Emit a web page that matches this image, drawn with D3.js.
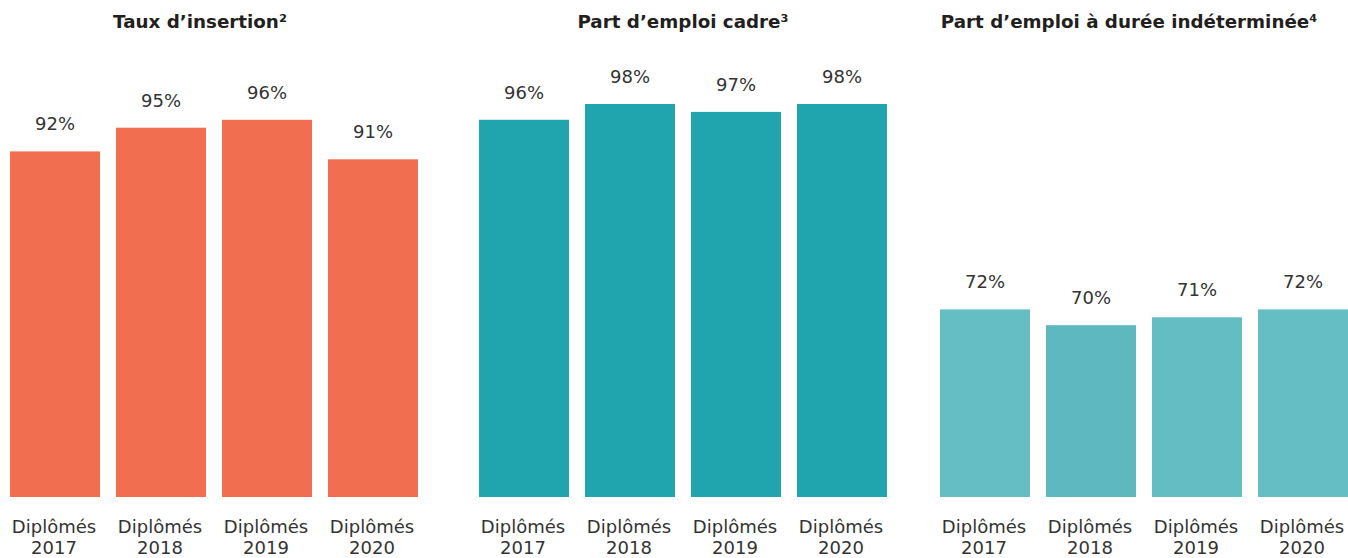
<!DOCTYPE html>
<html><head><meta charset="utf-8">
<script src="https://cdn.jsdelivr.net/npm/d3@7"></script>
<style>
html,body{margin:0;padding:0;background:#fff;}
svg{display:block;font-family:"DejaVu Sans",Verdana,sans-serif;}
</style></head>
<body>
<svg id="chart" width="1348" height="558"></svg>
<script>
// ---- data ----
const categories = ["Diplômés 2017", "Diplômés 2018", "Diplômés 2019", "Diplômés 2020"];
const panelTitles = ["Taux d’insertion²", "Part d’emploi cadre³", "Part d’emploi à durée indéterminée⁴"];
const insertionValues = [92, 95, 96, 91];
const cadreValues = [96, 98, 97, 98];
const cdiValues = [72, 70, 71, 72];

// ---- layout / style ----
const seriesList = [insertionValues, cadreValues, cdiValues];
const panelRanges = [[10, 418], [479, 887], [940, 1348]];
const titleCenters = [200, 683, 1129];
const barColors = [
  ["#F26E50", "#F26E50", "#F26E50", "#F26E50"],
  ["#20A4AD", "#20A4AD", "#20A4AD", "#20A4AD"],
  ["#65BEC3", "#5DB9BF", "#63BDC2", "#65BEC3"]
];
const baseY = 497;
const y = d3.scaleLinear().domain([48.25, 100]).range([baseY, 88.2]);

const svg = d3.select("#chart");

seriesList.forEach((vals, p) => {
  const g = svg.append("g");
  const x = d3.scaleBand().domain(categories).range(panelRanges[p])
    .paddingInner(16 / 106).paddingOuter(0);

  g.append("text")
    .attr("x", titleCenters[p]).attr("y", 28)
    .attr("text-anchor", "middle")
    .attr("font-size", 18.3).attr("font-weight", "bold")
    .attr("fill", "#231F20")
    .text(panelTitles[p]);

  const data = categories.map((c, i) => ({c, v: vals[i], i}));

  g.selectAll("rect").data(data).join("rect")
    .attr("x", d => x(d.c))
    .attr("y", d => y(d.v))
    .attr("width", x.bandwidth())
    .attr("height", d => baseY - y(d.v))
    .attr("fill", d => barColors[p][d.i]);

  g.selectAll("text.val").data(data).join("text")
    .attr("class", "val")
    .attr("x", d => x(d.c) + x.bandwidth() / 2)
    .attr("y", d => y(d.v) - 21)
    .attr("text-anchor", "middle")
    .attr("font-size", 18)
    .attr("fill", "#333333")
    .text(d => d.v + "%");

  const lab = g.selectAll("text.cat").data(data).join("text")
    .attr("class", "cat")
    .attr("text-anchor", "middle")
    .attr("font-size", 18)
    .attr("fill", "#333333");
  lab.each(function(d) {
    const parts = d.c.split(" ");
    const t = d3.select(this);
    const cx = x(d.c) + x.bandwidth() / 2 - 1;
    t.append("tspan").attr("x", cx).attr("y", 533).text(parts[0]);
    t.append("tspan").attr("x", cx).attr("y", 554).text(parts[1]);
  });
});
</script>
</body></html>
